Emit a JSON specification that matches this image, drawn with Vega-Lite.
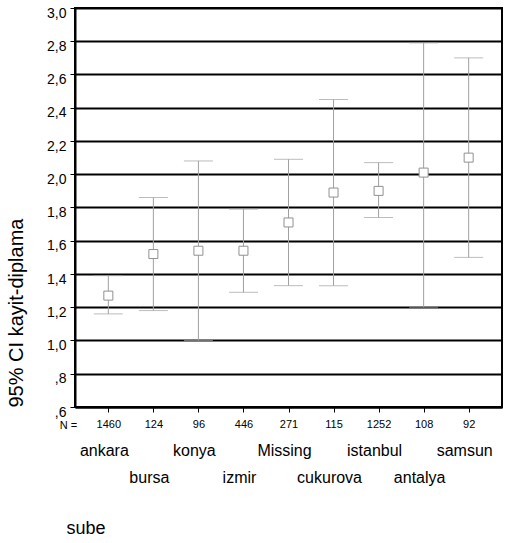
{
  "$schema": "https://vega.github.io/schema/vega-lite/v6.json",
  "config": {
    "font": "Liberation Sans",
    "view": {"stroke": "black", "strokeWidth": 2},
    "concat": {"spacing": 6},
    "axisY": {"tickCount": 13}
  },
  "data": {
    "values": [
      {"sube": "ankara", "n": "1460", "mean": 1.27, "lo": 1.16, "hi": 1.39, "row": 1},
      {"sube": "bursa", "n": "124", "mean": 1.52, "lo": 1.18, "hi": 1.86, "row": 2},
      {"sube": "konya", "n": "96", "mean": 1.54, "lo": 1.0, "hi": 2.08, "row": 1},
      {"sube": "izmir", "n": "446", "mean": 1.54, "lo": 1.29, "hi": 1.79, "row": 2},
      {"sube": "Missing", "n": "271", "mean": 1.71, "lo": 1.33, "hi": 2.09, "row": 1},
      {"sube": "cukurova", "n": "115", "mean": 1.89, "lo": 1.33, "hi": 2.45, "row": 2},
      {"sube": "istanbul", "n": "1252", "mean": 1.9, "lo": 1.74, "hi": 2.07, "row": 1},
      {"sube": "antalya", "n": "108", "mean": 2.01, "lo": 1.2, "hi": 2.79, "row": 2},
      {"sube": "samsun", "n": "92", "mean": 2.1, "lo": 1.5, "hi": 2.7, "row": 1}
    ]
  },
  "vconcat": [
    {
      "width": 427,
      "height": 399,
      "encoding": {
        "x": {
          "field": "n",
          "type": "nominal",
          "sort": null,
          "scale": {"type": "point", "padding": 0.74},
          "axis": {
            "title": "N =",
            "titleFontSize": 11,
            "titleFontWeight": "normal",
            "titleAnchor": "start",
            "titleAlign": "center",
            "titleBaseline": "middle",
            "titleX": -7,
            "titleY": 18,
            "labelAngle": 0,
            "labelFontSize": 11,
            "labelColor": "black",
            "labelPadding": 6,
            "tickSize": 5,
            "tickColor": "black",
            "domainColor": "black",
            "domainWidth": 2
          }
        }
      },
      "layer": [
        {
          "mark": {"type": "rule", "color": "#a0a0a0", "strokeWidth": 1},
          "encoding": {
            "y": {
              "field": "lo",
              "type": "quantitative",
              "scale": {"domain": [0.6, 3.0], "nice": false, "zero": false},
              "axis": {
                "values": [0.6, 0.8, 1.0, 1.2, 1.4, 1.6, 1.8, 2.0, 2.2, 2.4, 2.6, 2.8, 3.0],
                "tickCount": 13,
                "labelOverlap": false,
                "labelExpr": "datum.value < 1 ? replace(format(datum.value, '.1f'), '0.', ',') : replace(format(datum.value, '.1f'), '.', ',')",
                "labelFontSize": 14,
                "labelColor": "black",
                "labelOffset": 5,
                "labelPadding": 4,
                "tickSize": 5,
                "tickColor": "black",
                "domainColor": "black",
                "domainWidth": 2,
                "grid": true,
                "gridColor": "black",
                "gridWidth": 2,
                "gridOpacity": 1,
                "title": "95% CI kayit-diplama",
                "titleFontSize": 20,
                "titleFontWeight": "normal",
                "titleColor": "black",
                "titleAnchor": "start",
                "titlePadding": 20
              }
            },
            "y2": {"field": "hi"}
          }
        },
        {
          "mark": {"type": "tick", "color": "#a0a0a0", "size": 29, "thickness": 1},
          "encoding": {"y": {"field": "lo", "type": "quantitative"}}
        },
        {
          "mark": {"type": "tick", "color": "#a0a0a0", "size": 29, "thickness": 1},
          "encoding": {"y": {"field": "hi", "type": "quantitative"}}
        },
        {
          "mark": {"type": "point", "shape": "square", "size": 81, "filled": false, "fill": "white", "fillOpacity": 1, "stroke": "#909090", "strokeWidth": 1, "opacity": 1},
          "encoding": {"y": {"field": "mean", "type": "quantitative"}}
        }
      ]
    },
    {
      "width": 427,
      "height": 54,
      "view": {"stroke": null},
      "mark": {"type": "text", "fontSize": 16, "color": "black", "dx": -4},
      "encoding": {
        "x": {
          "field": "n",
          "type": "nominal",
          "sort": null,
          "scale": {"type": "point", "padding": 0.74},
          "axis": {
            "title": "sube",
            "titleFontSize": 18,
            "titleFontWeight": "normal",
            "titleColor": "black",
            "titleAnchor": "start",
            "titleAlign": "left",
            "titleBaseline": "middle",
            "titleX": -9,
            "titleY": 37,
            "labels": false,
            "ticks": false,
            "domain": false
          }
        },
        "y": {
          "field": "row",
          "type": "ordinal",
          "scale": {"type": "point", "padding": 0.5},
          "axis": null
        },
        "text": {"field": "sube"}
      }
    }
  ]
}
